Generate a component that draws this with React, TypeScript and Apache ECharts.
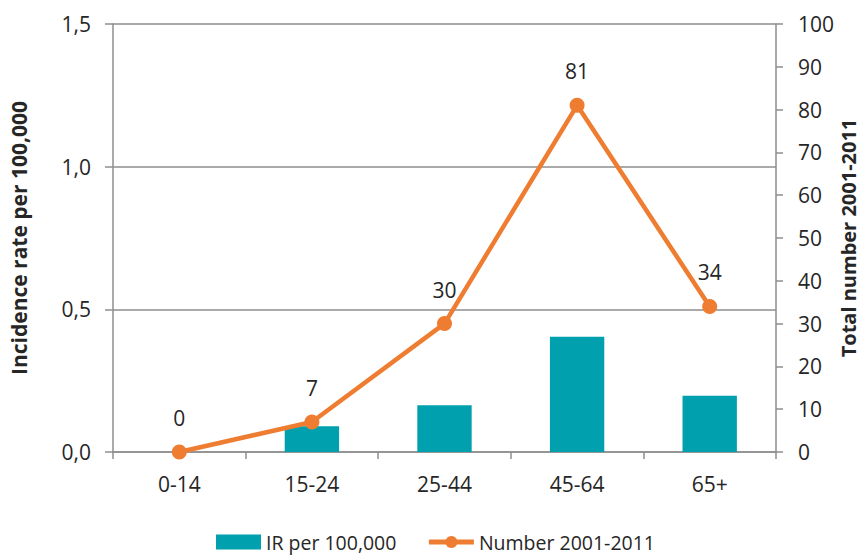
import React, { useEffect, useRef } from "react";
import * as echarts from "echarts";

const categories = ["0-14", "15-24", "25-44", "45-64", "65+"];
const irPer100k = [0, 0.09, 0.164, 0.404, 0.197];
const totalNumber = [0, 7, 30, 81, 34];

const FONT = "'Open Sans', 'Noto Sans', sans-serif";
const TEXT = "#262626";
const AXIS = "#8e8e8e";
const FS = 21;

export default function App() {
  const ref = useRef<HTMLDivElement>(null);
  useEffect(() => {
    if (!ref.current) return;
    const chart = echarts.init(ref.current, null, { renderer: "svg" });
    chart.setOption({
      animation: false,
      backgroundColor: "#ffffff",
      textStyle: { fontFamily: FONT, color: TEXT },
      grid: {
        left: 113,
        right: 88,
        top: 24,
        bottom: 104,
        containLabel: false,
        outerBoundsMode: "none",
      },
      legend: {
        top: 527,
        left: 211,
        itemWidth: 45,
        itemHeight: 15,
        itemGap: 30,
        textStyle: { fontFamily: FONT, fontSize: 19.5, color: TEXT },
        data: [
          { name: "IR per 100,000", icon: "rect" },
          { name: "Number 2001-2011", lineStyle: { width: 5 } },
        ],
      },
      xAxis: {
        type: "category",
        data: categories,
        axisLine: { lineStyle: { color: AXIS, width: 1.5 } },
        axisTick: { show: true, length: 7, alignWithLabel: false, lineStyle: { color: AXIS, width: 1.5 } },
        axisLabel: { fontSize: FS, color: TEXT, margin: 21, fontFamily: FONT },
      },
      yAxis: [
        {
          type: "value",
          min: 0,
          max: 1.5,
          interval: 0.5,
          name: "Incidence rate per 100,000",
          nameLocation: "middle",
          nameRotate: 90,
          nameGap: 84,
          nameTextStyle: { fontSize: 21, fontWeight: "bold", color: TEXT, fontFamily: FONT },
          axisLine: { show: true, lineStyle: { color: AXIS, width: 1.5 } },
          axisTick: { show: true, length: 8, lineStyle: { color: AXIS, width: 1.5 } },
          axisLabel: {
            fontSize: FS,
            color: TEXT,
            margin: 22,
            fontFamily: FONT,
            formatter: (v: number) => v.toFixed(1).replace(".", ","),
          },
          splitLine: { show: true, lineStyle: { color: AXIS, width: 1.5 } },
        },
        {
          type: "value",
          min: 0,
          max: 100,
          interval: 10,
          position: "right",
          name: "Total number 2001-2011",
          nameLocation: "middle",
          nameRotate: 90,
          nameGap: 62,
          nameMoveOverlap: false,
          nameTextStyle: { fontSize: 20, fontWeight: "bold", color: TEXT, fontFamily: FONT },
          axisLine: { show: true, lineStyle: { color: AXIS, width: 1.5 } },
          axisTick: { show: true, length: 7, lineStyle: { color: AXIS, width: 1.5 } },
          axisLabel: { fontSize: FS, color: TEXT, margin: 22, fontFamily: FONT },
          splitLine: { show: false },
        },
      ],
      series: [
        {
          name: "IR per 100,000",
          type: "bar",
          yAxisIndex: 0,
          data: irPer100k,
          barWidth: "41%",
          itemStyle: { color: "#00A0AE" },
        },
        {
          name: "Number 2001-2011",
          type: "line",
          yAxisIndex: 1,
          data: totalNumber,
          symbol: "circle",
          symbolSize: 15,
          lineStyle: { color: "#EF7D31", width: 4.5 },
          itemStyle: { color: "#EF7D31" },
          label: {
            show: true,
            position: "top",
            distance: 16,
            fontSize: FS,
            color: TEXT,
            fontFamily: FONT,
          },
          z: 5,
        },
      ],
    });
    return () => chart.dispose();
  }, []);
  return (
    <div
      ref={ref}
      style={{ position: "fixed", left: 0, top: 0, width: 864, height: 556 }}
    />
  );
}
